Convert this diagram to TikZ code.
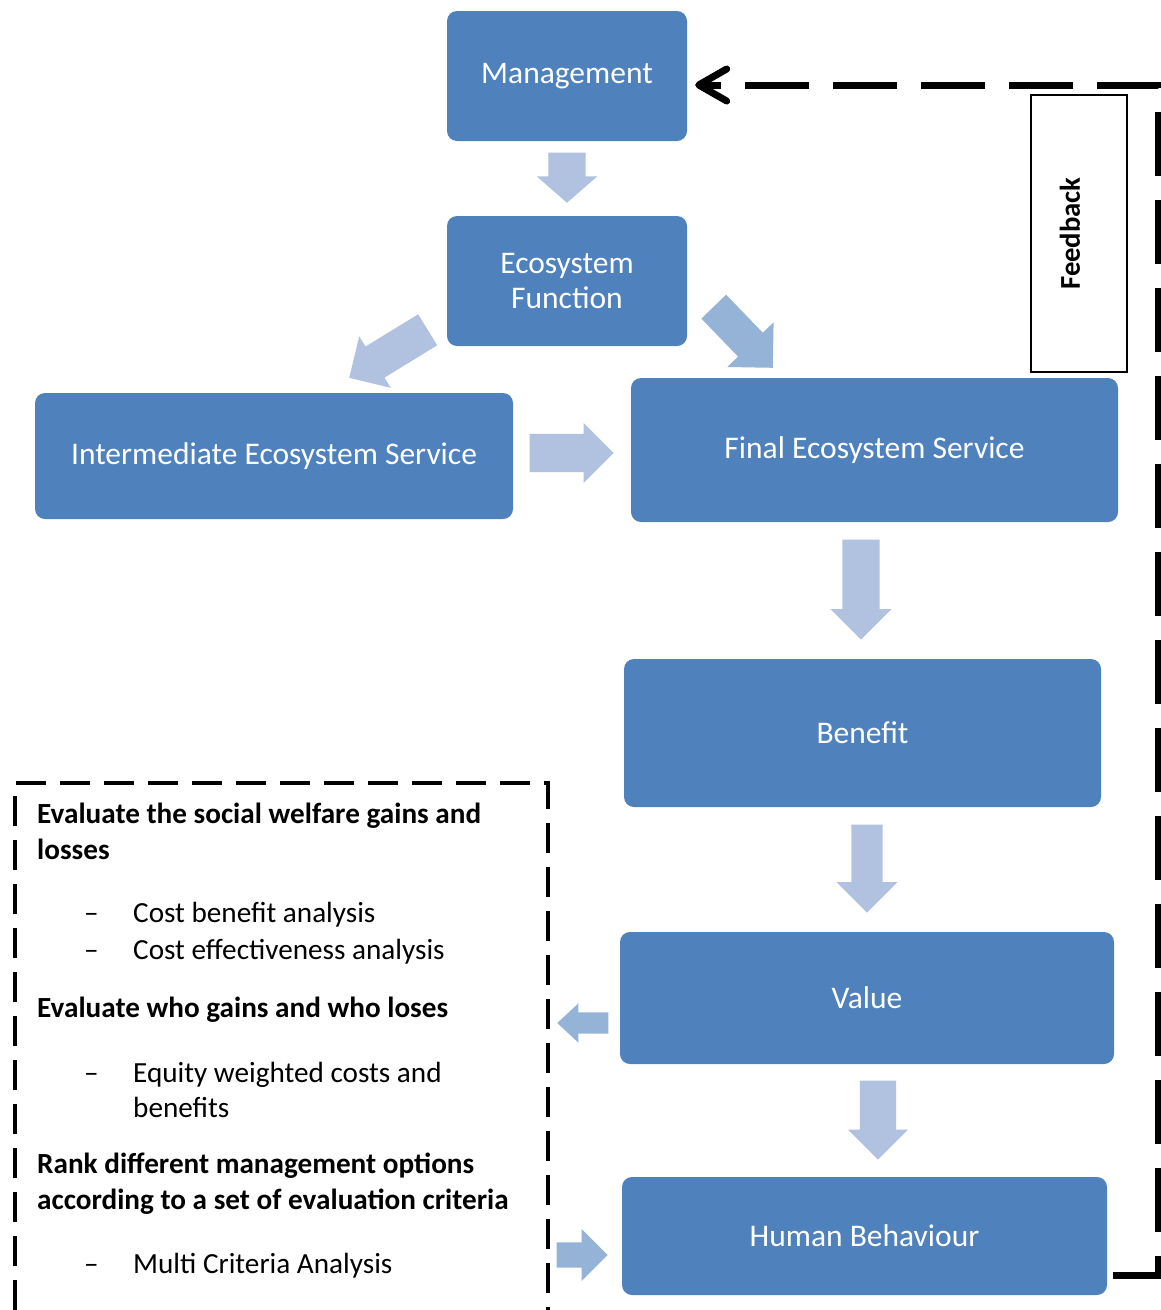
\documentclass[tikz,border=0pt]{standalone}
\usepackage{fontspec}
\setmainfont{Carlito}
\usetikzlibrary{shapes.arrows}
\usetikzlibrary{arrows.meta}
\usetikzlibrary{calc}

\definecolor{boxblue}{RGB}{79,129,189}
\definecolor{arrowpale}{RGB}{176,194,223}
\definecolor{arrowmid}{RGB}{149,179,215}

\tikzset{
  stage/.style={rectangle, rounded corners=10pt, fill=boxblue, text=white,
    font=\fontsize{31.5}{35}\selectfont, align=center, inner sep=0pt},
  fatarrow/.style n args={3}{single arrow, draw=none, fill=arrowpale,
    inner xsep=0pt, inner ysep=#1, single arrow head extend=#2,
    minimum height=#3, minimum width=1pt, single arrow head indent=0pt,
    single arrow tip angle=90, anchor=tip},
  feedback/.style={line width=7pt, dash pattern=on 64pt off 24pt,
    -{Straight Barb[length=28pt,width=32pt,round]}},
  panel/.style={line width=3.5pt, dash pattern=on 30pt off 14pt},
  head/.style={anchor=base west, inner sep=0pt,
    font=\fontsize{29.2}{35}\selectfont\bfseries},
  item/.style={anchor=base west, inner sep=0pt,
    font=\fontsize{29.2}{35}\selectfont},
}

\begin{document}
\begin{tikzpicture}[x=1pt,y=-1pt]
\useasboundingbox (0,0) rectangle (1161,1310);

% stages
\node[stage, minimum width=240pt, minimum height=130pt] (mgmt) at (567,76) {Management};
\node[stage, minimum width=240pt, minimum height=130pt] (ecof) at (567,281) {Ecosystem\\Function};
\node[stage, minimum width=478pt, minimum height=126pt] (inter) at (274,456) {Intermediate Ecosystem Service};
\node[stage, minimum width=487pt, minimum height=144pt] (final) at (874.5,450) {Final Ecosystem Service};
\node[stage, minimum width=477pt, minimum height=148pt] (benefit) at (862.5,733) {Benefit};
\node[stage, minimum width=494pt, minimum height=132pt] (value) at (867,998) {Value};
\node[stage, minimum width=485pt, minimum height=118pt] (hb) at (864.5,1236) {Human Behaviour};

% block arrows
\node[fatarrow={18.5pt}{11.5pt}{50pt}, rotate=-90, single arrow tip angle=98] (a1) at (567,203) {};
\node[fatarrow={18pt}{12pt}{92pt}, rotate=211.5] (a2) at (349,378) {};
\node[fatarrow={17pt}{15pt}{85pt}, rotate=-46, fill=arrowmid] (a3) at (773,368) {};
\node[fatarrow={19pt}{11pt}{84pt}] (a4) at (614,453) {};
\node[fatarrow={18.5pt}{12pt}{100pt}, rotate=-90] (a5) at (861,640) {};
\node[fatarrow={15.5pt}{15pt}{88pt}, rotate=-90] (a6) at (867,913) {};
\node[fatarrow={18pt}{12pt}{79pt}, rotate=-90] (a7) at (878,1160) {};
\node[fatarrow={10.5pt}{9pt}{51pt}, rotate=180, fill=arrowmid, single arrow tip angle=86] (a8) at (557,1023) {};
\node[fatarrow={12.5pt}{13.5pt}{51pt}, fill=arrowmid] (a9) at (608,1255) {};

% feedback loop
\coordinate (fbstart) at ($(hb.south east)+(6,-20)$);
\coordinate (fbend) at ($(mgmt.east)+(8,9)$);
\draw[feedback] (fbstart) -- ++(45,0) |- (fbend);
\node[draw, line width=1.2pt, fill=white, minimum width=96pt, minimum height=277pt, inner sep=0pt] (fbbox) at (1079,233.5) {};
\node[rotate=90, inner sep=0pt, font=\fontsize{28.7}{30}\selectfont\bfseries] (fbtext) at ([xshift=-9pt]fbbox.center) {Feedback};

% evaluation panel
\draw[panel] (15,1310) |- (548,783) -- (548,1310);
\node[head] (h1) at (37,823) {Evaluate the social welfare gains and};
\node[head] (h1b) at (37,859) {losses};
\node[item] (d1) at (84,922) {\textendash};
\node[item] (i1) at (133,922) {Cost benefit analysis};
\node[item] (d2) at (84,959) {\textendash};
\node[item] (i2) at (133,959) {Cost effectiveness analysis};
\node[head] (h2) at (37,1017) {Evaluate who gains and who loses};
\node[item] (d3) at (84,1082) {\textendash};
\node[item] (i3) at (133,1082) {Equity weighted costs and};
\node[item] (i3b) at (133,1117) {benefits};
\node[head] (h3) at (37,1173) {Rank different management options};
\node[head] (h3b) at (37,1209) {according to a set of evaluation criteria};
\node[item] (d4) at (84,1273) {\textendash};
\node[item] (i4) at (133,1273) {Multi Criteria Analysis};
\end{tikzpicture}
\end{document}
